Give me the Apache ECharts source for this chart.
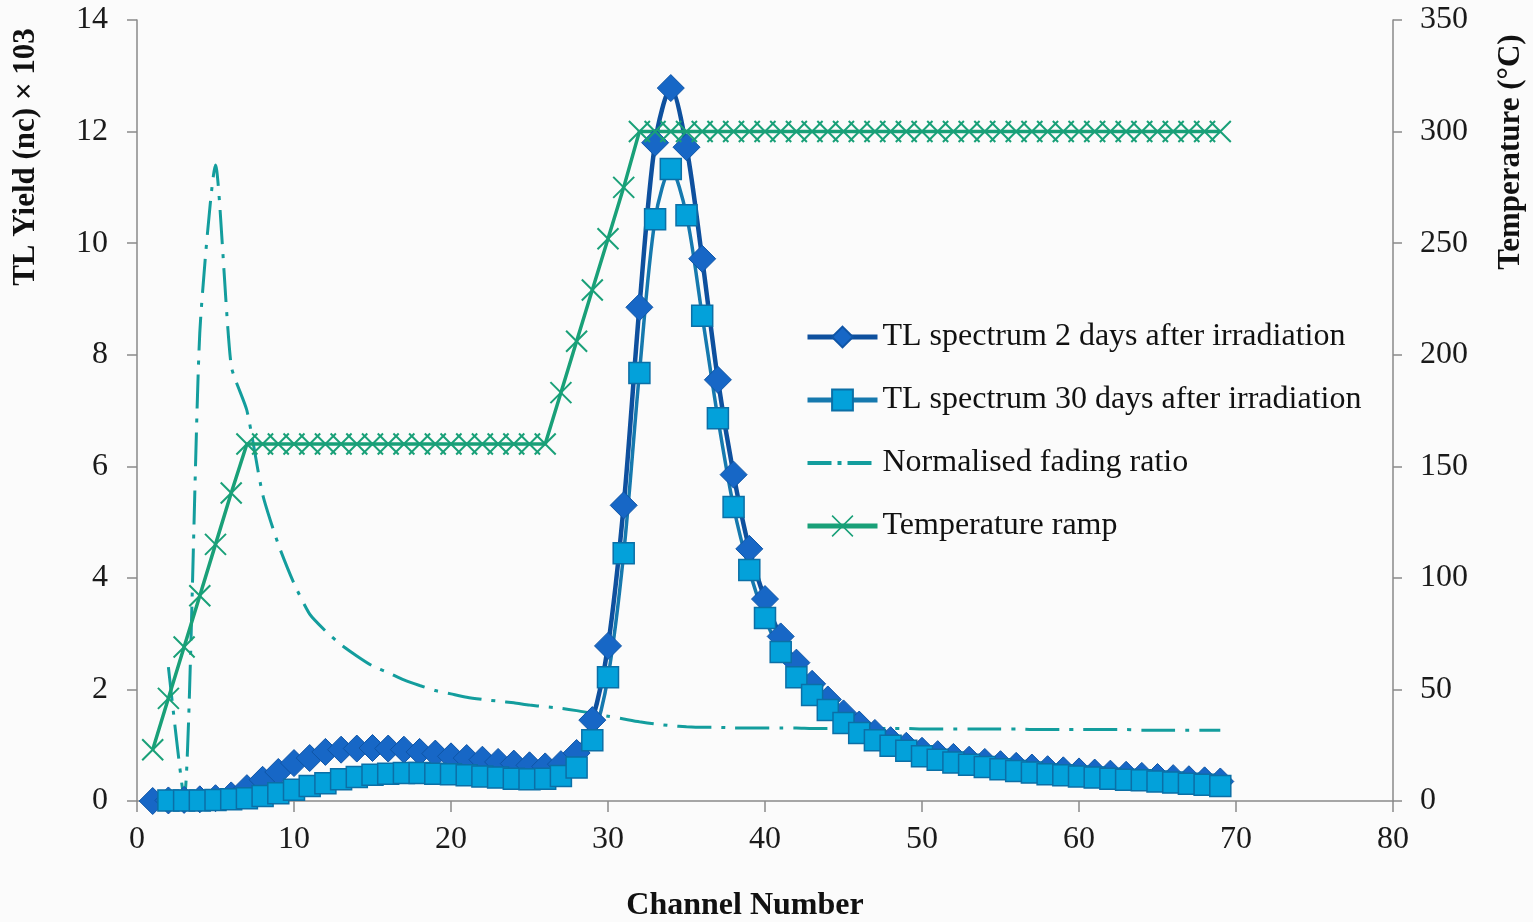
<!DOCTYPE html>
<html>
<head>
<meta charset="utf-8">
<script src="https://cdn.jsdelivr.net/npm/echarts@6/dist/echarts.min.js"></script>
<style>
  html, body { margin: 0; padding: 0; background: #fbfbfb; }
  #chart { width: 1533px; height: 922px; }
</style>
</head>
<body>
<div id="chart"></div>
<script>
// channel numbers 1..69
const channels = [
  1, 2, 3, 4, 5, 6, 7, 8, 9, 10, 11, 12, 13, 14, 15, 16, 17, 18, 19, 20,
  21, 22, 23, 24, 25, 26, 27, 28, 29, 30, 31, 32, 33, 34, 35, 36, 37, 38, 39, 40,
  41, 42, 43, 44, 45, 46, 47, 48, 49, 50, 51, 52, 53, 54, 55, 56, 57, 58, 59, 60,
  61, 62, 63, 64, 65, 66, 67, 68, 69
]

// TL yield (nc) x 10^3, 2 days after irradiation
const tl2days = [
  0, 0.01, 0.02, 0.03, 0.05, 0.1, 0.23, 0.38, 0.52, 0.68,
  0.77, 0.88, 0.92, 0.94, 0.95, 0.94, 0.92, 0.88, 0.85, 0.8,
  0.77, 0.74, 0.7, 0.67, 0.64, 0.62, 0.66, 0.86, 1.45, 2.78,
  5.3, 8.85, 11.8, 12.78, 11.72, 9.72, 7.55, 5.85, 4.52, 3.62,
  2.95, 2.48, 2.1, 1.82, 1.57, 1.37, 1.22, 1.09, 0.99, 0.9,
  0.84, 0.79, 0.74, 0.7, 0.66, 0.63, 0.6, 0.57, 0.55, 0.53,
  0.51, 0.49, 0.47, 0.45, 0.43, 0.41, 0.39, 0.37, 0.35
]

// TL yield, 30 days after irradiation
const tl30days = [
  null, 0.01, 0.01, 0.01, 0.02, 0.03, 0.05, 0.09, 0.14, 0.2,
  0.27, 0.32, 0.39, 0.43, 0.47, 0.49, 0.5, 0.5, 0.49, 0.48,
  0.46, 0.44, 0.42, 0.4, 0.39, 0.4, 0.45, 0.6, 1.09, 2.22,
  4.44, 7.67, 10.43, 11.33, 10.5, 8.7, 6.86, 5.27, 4.14, 3.28,
  2.67, 2.22, 1.9, 1.63, 1.4, 1.22, 1.09, 0.99, 0.9, 0.8,
  0.74, 0.69, 0.65, 0.61, 0.57, 0.54, 0.51, 0.48, 0.46, 0.44,
  0.42, 0.4, 0.38, 0.37, 0.35, 0.33, 0.31, 0.29, 0.27
]

// normalised fading ratio (left axis)
const fadingRatio = [
  null, 2.4, 0.05, 8.4, 11.4, 7.8, 7.0, 5.5, 4.6, 3.9,
  3.35, 3.05, 2.8, 2.6, 2.42, 2.3, 2.17, 2.07, 1.98, 1.92,
  1.86, 1.82, 1.79, 1.76, 1.72, 1.69, 1.66, 1.62, 1.57, 1.52,
  1.47, 1.42, 1.38, 1.35, 1.33, 1.32, 1.32, 1.31, 1.31, 1.31,
  1.31, 1.31, 1.3, 1.3, 1.3, 1.3, 1.3, 1.3, 1.3, 1.29,
  1.29, 1.29, 1.29, 1.29, 1.29, 1.29, 1.28, 1.28, 1.28, 1.28,
  1.28, 1.28, 1.28, 1.27, 1.27, 1.27, 1.27, 1.27, 1.27
]

// temperature ramp (°C, right axis)
const temperature = [
  23, 46, 69, 92, 115, 138, 160, 160, 160, 160,
  160, 160, 160, 160, 160, 160, 160, 160, 160, 160,
  160, 160, 160, 160, 160, 160, 183, 206, 229, 252,
  275, 300, 300, 300, 300, 300, 300, 300, 300, 300,
  300, 300, 300, 300, 300, 300, 300, 300, 300, 300,
  300, 300, 300, 300, 300, 300, 300, 300, 300, 300,
  300, 300, 300, 300, 300, 300, 300, 300, 300
]

const xTicks = [0, 80, 10]
const leftTicks = [0, 14, 2]
const rightTicks = [0, 350, 50]

const seriesNames = [
  'TL spectrum 2 days after irradiation',
  'TL spectrum 30 days after irradiation',
  'Normalised fading ratio',
  'Temperature ramp'
]

const pairs = (vals) => channels.map((c, i) => [c, vals[i]])

const FONT = 'Liberation Serif'
const axisColor = '#8a8a8a'
const dashDot = [34, 10, 4, 10]

const chart = echarts.init(document.getElementById('chart'))

const tickLabel = { fontFamily: FONT, fontSize: 32, color: '#1a1a1a' }

const options = {
  backgroundColor: '#fbfbfb',
  animation: false,
  grid: { left: 137, right: 140, top: 20, bottom: 121 },
  legend: {
    orient: 'vertical',
    left: 805,
    top: 321,
    padding: 0,
    itemGap: 31,
    itemWidth: 70,
    itemHeight: 26,
    data: [
      { name: seriesNames[0], lineStyle: { width: 5 } },
      { name: seriesNames[1], lineStyle: { width: 5 } },
      { name: seriesNames[2], lineStyle: { width: 4, type: [24, 6, 4, 6] }, itemStyle: { opacity: 0 } },
      { name: seriesNames[3], lineStyle: { width: 5 }, itemStyle: { borderWidth: 1.5 } }
    ],
    textStyle: { fontFamily: FONT, fontSize: 32, color: '#111' }
  },
  xAxis: {
    type: 'value',
    min: xTicks[0],
    max: xTicks[1],
    interval: xTicks[2],
    axisLine: { lineStyle: { color: axisColor, width: 1.5 } },
    axisTick: { length: 11, lineStyle: { color: axisColor, width: 1.5 } },
    axisLabel: Object.assign({ margin: 23 }, tickLabel),
    splitLine: { show: false }
  },
  yAxis: [
    {
      type: 'value',
      min: leftTicks[0],
      max: leftTicks[1],
      interval: leftTicks[2],
      axisLine: { show: true, lineStyle: { color: axisColor, width: 1.5 } },
      axisTick: { show: true, length: 10, lineStyle: { color: axisColor, width: 1.5 } },
      axisLabel: Object.assign({ margin: 29 }, tickLabel),
      splitLine: { show: false }
    },
    {
      type: 'value',
      min: rightTicks[0],
      max: rightTicks[1],
      interval: rightTicks[2],
      position: 'right',
      axisLine: { show: true, lineStyle: { color: axisColor, width: 1.5 } },
      axisTick: { show: true, length: 9, lineStyle: { color: axisColor, width: 1.5 } },
      axisLabel: Object.assign({ margin: 27 }, tickLabel),
      splitLine: { show: false }
    }
  ],
  graphic: [
    {
      type: 'text', x: 26, y: 157, rotation: Math.PI / 2,
      style: { text: 'TL Yield (nc) × 103', font: 'bold 31px "Liberation Serif"', fill: '#111', align: 'center', verticalAlign: 'middle' }
    },
    {
      type: 'text', x: 1511, y: 152, rotation: Math.PI / 2,
      style: { text: 'Temperature (°C)', font: 'bold 31px "Liberation Serif"', fill: '#111', align: 'center', verticalAlign: 'middle' }
    },
    {
      type: 'text', x: 745, y: 906,
      style: { text: 'Channel Number', font: 'bold 32px "Liberation Serif"', fill: '#111', align: 'center', verticalAlign: 'middle' }
    }
  ],
  series: [
    {
      name: seriesNames[0],
      type: 'line',
      smooth: 0.3,
      data: pairs(tl2days),
      symbol: 'diamond',
      symbolSize: 27,
      lineStyle: { color: '#0e509e', width: 4.5 },
      itemStyle: { color: '#1767c6', borderColor: '#0f55a6', borderWidth: 1 }
    },
    {
      name: seriesNames[1],
      type: 'line',
      smooth: 0.3,
      data: pairs(tl30days),
      symbol: 'rect',
      symbolSize: 21,
      lineStyle: { color: '#1679ae', width: 3.5 },
      itemStyle: { color: '#03a1da', borderColor: '#0b6fa6', borderWidth: 1.5 }
    },
    {
      name: seriesNames[2],
      type: 'line',
      smooth: 0.2,
      data: pairs(fadingRatio),
      symbol: 'circle',
      showSymbol: false,
      lineStyle: { color: '#139d9d', width: 3, type: dashDot },
      itemStyle: { color: '#139d9d' }
    },
    {
      name: seriesNames[3],
      type: 'line',
      yAxisIndex: 1,
      data: pairs(temperature),
      symbol: 'path://M0,0L10,10M10,0L0,10',
      symbolSize: 21,
      lineStyle: { color: '#19a078', width: 3.5 },
      itemStyle: { color: '#19a078', borderColor: '#19a078', borderWidth: 2 }
    }
  ]
}

chart.setOption(options)
</script>
</body>
</html>
